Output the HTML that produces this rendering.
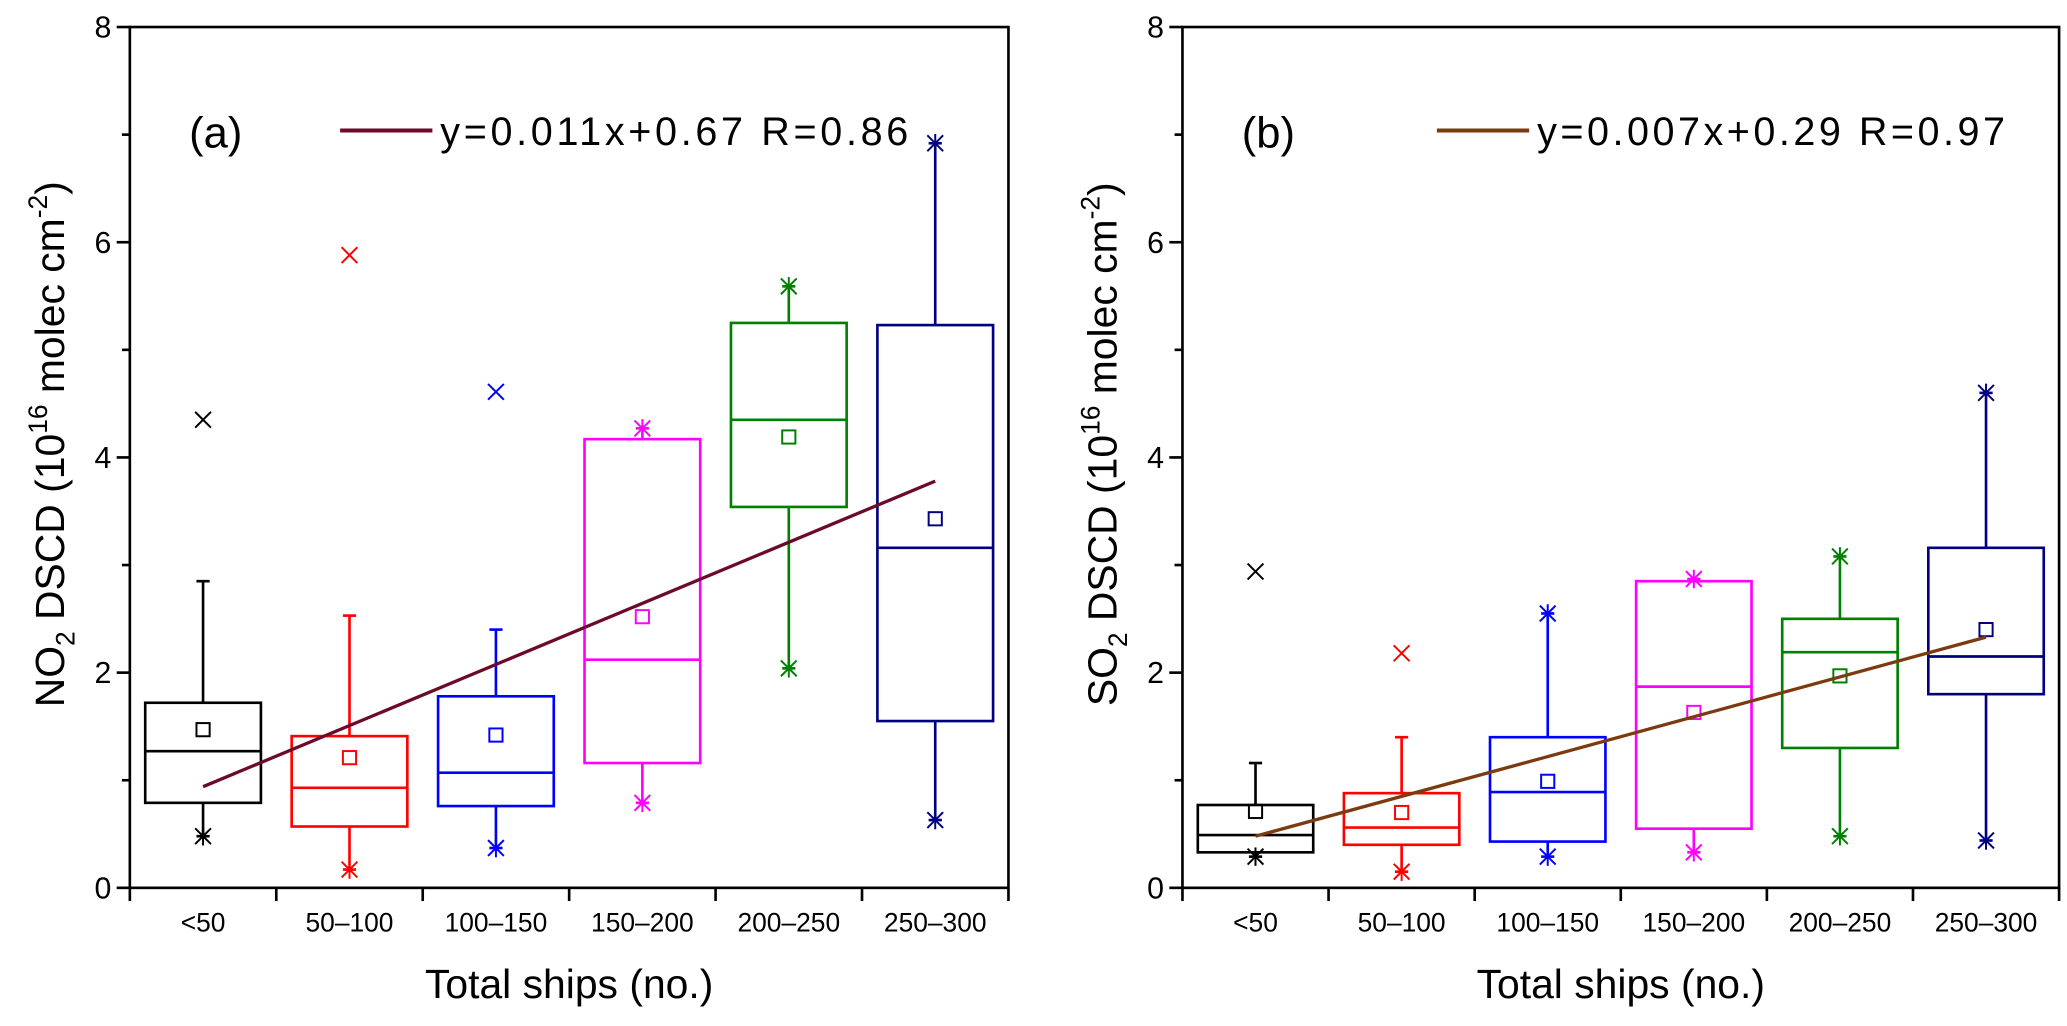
<!DOCTYPE html>
<html><head><meta charset="utf-8"><style>body{margin:0;background:#fff}svg{display:block}</style></head>
<body>
<svg id="chart" width="2067" height="1026" viewBox="0 0 1568 778.3" xmlns="http://www.w3.org/2000/svg" font-family="'Liberation Sans', Arial, sans-serif"></svg>
<script>
const categories = ["<50","50–100","100–150","150–200","200–250","250–300"];
const colors = ["#000000","#ff0000","#0000ff","#ff00ff","#008000","#000080"];
const yTicks = [0,2,4,6,8];
// panel a (NO2)
const aQ1 = [0.79,0.57,0.76,1.16,3.54,1.55];
const aMed = [1.27,0.93,1.07,2.12,4.35,3.16];
const aQ3 = [1.72,1.41,1.78,4.17,5.25,5.23];
const aWhiskLo = [0.48,0.17,0.37,0.79,2.04,0.63];
const aWhiskHi = [2.85,2.53,2.40,4.27,5.59,6.92];
const aMean = [1.47,1.21,1.42,2.52,4.19,3.43];
const aMin = [0.48,0.17,0.37,0.79,2.04,0.63];
const aMax = [null,null,null,4.27,5.59,6.92];
const aOut = [4.35,5.88,4.61,null,null,null];
const aFit = [0.94,3.78];
// panel b (SO2)
const bQ1 = [0.33,0.40,0.43,0.55,1.30,1.80];
const bMed = [0.49,0.56,0.89,1.87,2.19,2.15];
const bQ3 = [0.77,0.88,1.40,2.85,2.50,3.16];
const bWhiskLo = [0.29,0.15,0.29,0.33,0.48,0.44];
const bWhiskHi = [1.16,1.40,2.55,2.87,3.08,4.60];
const bMean = [0.71,0.70,0.99,1.63,1.97,2.40];
const bMin = [0.29,0.15,0.29,0.33,0.48,0.44];
const bMax = [null,null,2.55,2.87,3.08,4.60];
const bOut = [2.94,2.18,null,null,null,null];
const bFit = [0.48,2.33];

const NS="http://www.w3.org/2000/svg";
const svg=document.getElementById('chart');
function mk(tag,attrs,parent){const e=document.createElementNS(NS,tag);for(const k in attrs)e.setAttribute(k,attrs[k]);(parent||svg).appendChild(e);return e;}

function panel(o){
  const g=mk('g',{});
  
  
  const x0=o.x0,x1=o.x1,yTop=20.5,yBot=673.5;
  const cw=(x1-x0)/categories.length;
  const X=i=>x0+cw*(i+0.5);
  const Y=v=>yBot-(v/8)*(yBot-yTop);
  const fr=mk('rect',{x:x0,y:yTop,width:x1-x0,height:yBot-yTop,fill:'none',stroke:'#000','stroke-width':2},g);
  
  
  for(let v=0;v<=8;v++){
    const major=v%2===0;
    mk('line',{x1:x0,x2:x0-(major?10:6),y1:Y(v),y2:Y(v),stroke:'#000','stroke-width':2},g);
  }
  yTicks.forEach(v=>{
    const t=mk('text',{x:x0-14,y:Y(v)+8,'font-size':23,'text-anchor':'end'},g);
    t.textContent=v;
    
    
  });
  for(let i=0;i<=categories.length;i++){
    mk('line',{x1:x0+cw*i,x2:x0+cw*i,y1:yBot,y2:yBot+10,stroke:'#000','stroke-width':2},g);
  }
  categories.forEach((c,i)=>{
    const t=mk('text',{x:X(i),y:yBot+33,'font-size':20,'text-anchor':'middle'},g);
    t.textContent=c;
    
    
  });
  const bw=cw*0.79, cap=5;
  categories.forEach((c,i)=>{
    const col=colors[i], cx=X(i);
    const bg=mk('g',{stroke:col,fill:'none','stroke-width':2},g);
    
    
    mk('line',{x1:cx,x2:cx,y1:Y(o.q3[i]),y2:Y(o.whi[i])},bg);
    mk('line',{x1:cx,x2:cx,y1:Y(o.q1[i]),y2:Y(o.wlo[i])},bg);
    mk('line',{x1:cx-cap,x2:cx+cap,y1:Y(o.whi[i]),y2:Y(o.whi[i])},bg);
    mk('line',{x1:cx-cap,x2:cx+cap,y1:Y(o.wlo[i]),y2:Y(o.wlo[i])},bg);
    mk('rect',{x:cx-bw/2,y:Y(o.q3[i]),width:bw,height:Y(o.q1[i])-Y(o.q3[i])},bg);
    mk('line',{x1:cx-bw/2,x2:cx+bw/2,y1:Y(o.med[i]),y2:Y(o.med[i])},bg);
    mk('rect',{x:cx-5,y:Y(o.mean[i])-5,width:10,height:10,'stroke-width':1.5},bg);
    const star=(v,vert)=>{const y=Y(v),s=6;
      mk('line',{x1:cx-s,x2:cx+s,y1:y-s,y2:y+s,'stroke-width':1.5},bg);
      mk('line',{x1:cx-s,x2:cx+s,y1:y+s,y2:y-s,'stroke-width':1.5},bg);
      if(vert)mk('line',{x1:cx,x2:cx,y1:y-s-1,y2:y+s+1,'stroke-width':1.5},bg);};
    if(o.mn[i]!=null)star(o.mn[i],true);
    if(o.mx[i]!=null)star(o.mx[i],true);
    if(o.out[i]!=null)star(o.out[i],false);
  });
  const fl=mk('line',{x1:X(0),x2:X(5),y1:Y(o.fit[0]),y2:Y(o.fit[1]),stroke:o.fitCol,'stroke-width':2.5},g);
  
  
  const pl=mk('text',{x:x0+45,y:112,'font-size':33},g);pl.textContent=o.label;
  
  
  const lg=mk('g',{},g);
  
  
  mk('line',{x1:o.legX,x2:o.legX+70,y1:99,y2:99,stroke:o.fitCol,'stroke-width':3},lg);
  const lt=mk('text',{x:o.legX+76,y:110,'font-size':30,textLength:355,lengthAdjust:'spacing'},lg);lt.textContent=o.eq;
  const xt=mk('text',{x:(x0+x1)/2,y:757,'font-size':31,'text-anchor':'middle'},g);
  xt.textContent='Total ships (no.)';
  
  
  const yt=mk('text',{x:0,y:0,'font-size':31,'text-anchor':'middle',transform:`translate(${x0-50},${(yTop+yBot)/2 - 10}) rotate(-90)`},g);
  yt.innerHTML=o.gas+'<tspan font-size="20" dy="8">2</tspan><tspan dy="-8"> DSCD (10</tspan><tspan font-size="20" dy="-13">16</tspan><tspan dy="13"> molec cm</tspan><tspan font-size="20" dy="-13">-2</tspan><tspan dy="13">)</tspan>';
  
  
}
panel({name:'panel-a-no2',x0:98.5,x1:765,q1:aQ1,med:aMed,q3:aQ3,wlo:aWhiskLo,whi:aWhiskHi,mean:aMean,mn:aMin,mx:aMax,out:aOut,fit:aFit,fitCol:'#6b0a2b',label:'(a)',legX:258,eq:'y=0.011x+0.67  R=0.86',gas:'NO'});
panel({name:'panel-b-so2',x0:897,x1:1562,q1:bQ1,med:bMed,q3:bQ3,wlo:bWhiskLo,whi:bWhiskHi,mean:bMean,mn:bMin,mx:bMax,out:bOut,fit:bFit,fitCol:'#7b3a10',label:'(b)',legX:1090,eq:'y=0.007x+0.29  R=0.97',gas:'SO'});
</script>
</body></html>
